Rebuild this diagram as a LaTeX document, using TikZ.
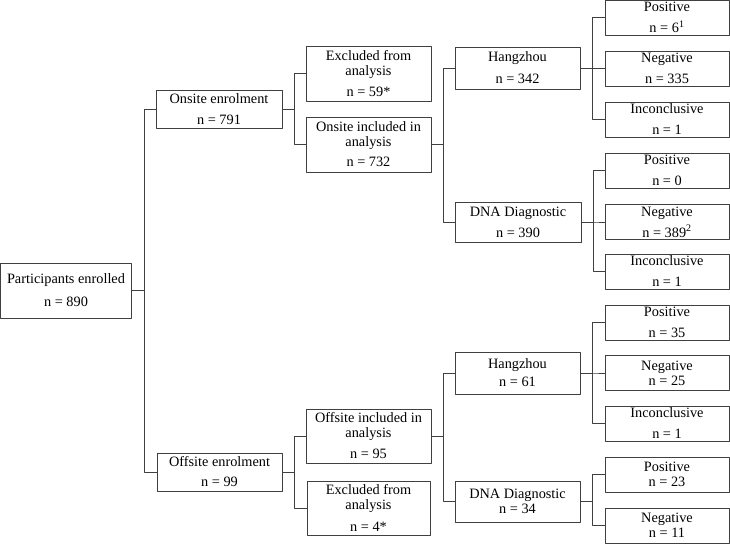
\documentclass[tikz,border=0pt]{standalone}
\usepackage{fontspec}
\setmainfont{Liberation Serif}
\tikzset{
  box/.style={draw=black!75, line width=.7pt, align=center, inner sep=0pt,
    font=\fontsize{14.3}{15}\selectfont},
  conn/.style={draw=black!75, line width=.7pt}
}
\begin{document}
\begin{tikzpicture}[x=1pt, y=-1pt, line join=round]
    \useasboundingbox (0,0) rectangle (730,544);
    % first and second level
    \node[box, minimum width=131, minimum height=55] (part) at (66,290.5) {Participants enrolled\\[8pt]n = 890};
    \node[box, minimum width=126, minimum height=38] (onsite) at (219,109) {Onsite enrolment\\[6pt]n = 791};
    \node[box, minimum width=125, minimum height=38] (offsite) at (219.5,472) {Offsite enrolment\\[5pt]n = 99};
    % inclusion
    \node[box, minimum width=125, minimum height=55] (exon) at (368.5,73.5) {Excluded from\\analysis\\[6pt]n = 59*};
    \node[box, minimum width=125, minimum height=55] (inon) at (368.5,144.5) {Onsite included in\\analysis\\[5pt]n = 732};
    \node[box, minimum width=125, minimum height=54] (inoff) at (368.5,436) {Offsite included in\\analysis\\[6pt]n = 95};
    \node[box, minimum width=123, minimum height=54] (exoff) at (368.5,508) {Excluded from\\analysis\\[7pt]n = 4*};
    % laboratories
    \node[box, minimum width=125, minimum height=42] (hzon) at (517.5,68) {Hangzhou\\[7pt]n = 342};
    \node[box, minimum width=126, minimum height=40] (dnaon) at (518,222) {DNA Diagnostic\\[6pt]n = 390};
    \node[box, minimum width=125, minimum height=42] (hzoff) at (517.5,373) {Hangzhou\\[3pt]n = 61};
    \node[box, minimum width=125, minimum height=41] (dnaoff) at (517.5,501.5) {DNA Diagnostic\\n = 34};
    % results
    \foreach \nm/\y/\res/\n/\gap in {hzonp/17.5/Positive/{6\textsuperscript{1}}/6, hzonn/68.5/Negative/335/6, hzoni/119.5/Inconclusive/1/6,
        dnaonp/170.5/Positive/0/6, dnaonn/222/Negative/{389\textsuperscript{2}}/6, dnaoni/271.5/Inconclusive/1/6,
        hzoffp/322.5/Positive/35/6, hzoffn/373/Negative/25/0, hzoffi/423.5/Inconclusive/1/6,
        dnaoffp/474.5/Positive/23/0, dnaoffn/525.5/Negative/11/0}
      \node[box, minimum width=124, minimum height=35] (\nm) at (667,\y) {\res\\[\gap pt]n = \n};
    % connectors
    \foreach \a/\b in {part/onsite, part/offsite, onsite/exon, onsite/inon, offsite/inoff, offsite/exoff,
        inon/hzon, inon/dnaon, inoff/hzoff, inoff/dnaoff,
        hzon/hzonp, hzon/hzonn, hzon/hzoni, dnaon/dnaonp, dnaon/dnaonn, dnaon/dnaoni,
        hzoff/hzoffp, hzoff/hzoffn, hzoff/hzoffi, dnaoff/dnaoffp, dnaoff/dnaoffn}
      \draw[conn] (\a.east) -- ++(12,0) |- (\b.west);
\end{tikzpicture}
\end{document}
